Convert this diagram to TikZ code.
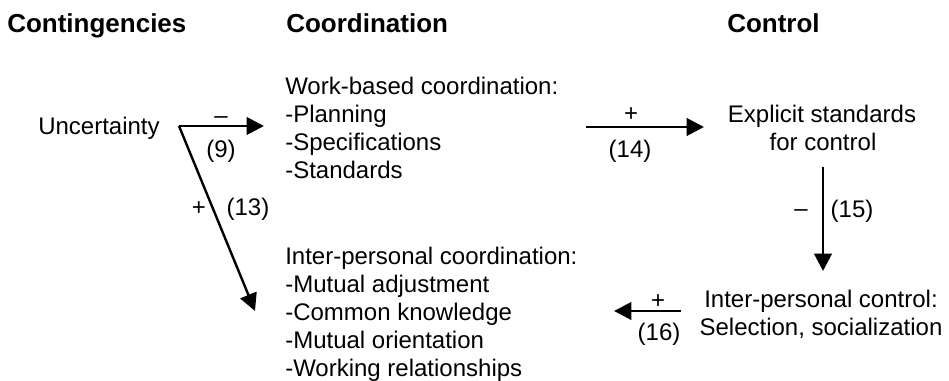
\documentclass[tikz,border=0pt]{standalone}
\usepackage{fontspec}
\setmainfont{Liberation Sans}
\usetikzlibrary{arrows.meta}

\tikzset{
  body/.style={font=\fontsize{18}{21}\selectfont, inner sep=0pt},
  line/.style={body, anchor=base west},
  cline/.style={body, anchor=base},
  head/.style={font=\fontsize{19.5}{23}\selectfont\bfseries, inner sep=0pt, anchor=base west},
  lab/.style={body, anchor=base},
  arr/.style={line width=2.2pt, -{Triangle[length=13pt,width=13pt]}},
  thinarr/.style={arr, line width=1.8pt},
}

\begin{document}
\begin{tikzpicture}[x=0.75pt, y=-0.75pt]
  % canvas
  \fill[white] (0,0) rectangle (949,381);

  % column headings
  \node[head] (hcont)  at (7,33)   {Contingencies};
  \node[head] (hcoord) at (286,33) {Coordination};
  \node[head] (hctrl)  at (727,33) {Control};

  % contingency
  \node[line] (unc) at (38,135) {Uncertainty};

  % work-based coordination
  \node[line] (wb1) at (285,95)  {Work-based coordination:};
  \node[line] (wb2) at (285,123) {-Planning};
  \node[line] (wb3) at (285,151) {-Specifications};
  \node[line] (wb4) at (285,179) {-Standards};

  % inter-personal coordination
  \node[line] (ip1) at (285,264) {Inter-personal coordination:};
  \node[line] (ip2) at (285,292) {-Mutual adjustment};
  \node[line] (ip3) at (285,320) {-Common knowledge};
  \node[line] (ip4) at (285,348) {-Mutual orientation};
  \node[line] (ip5) at (285,376) {-Working relationships};

  % control column
  \node[cline] (es1)  at (822,123) {Explicit standards};
  \node[cline] (es2)  at (823,151) {for control};
  \node[cline] (ipc1) at (821,307) {Inter-personal control:};
  \node[cline] (ipc2) at (821,335) {Selection, socialization};

  % connector end points
  \coordinate (fork) at (179,126);
  \coordinate (t9)   at (264,126);
  \coordinate (t13)  at (255,311);
  \coordinate (s14)  at (586,127);
  \coordinate (t14)  at (704,127);
  \coordinate (s15)  at (823,167);
  \coordinate (t15)  at (823,271);
  \coordinate (s16)  at (681,311);
  \coordinate (t16)  at (614,311);

  % connectors
  \draw[arr] (fork) -- (t9);
  \draw[thinarr] (fork) -- (t13);
  \draw[arr] (s14) -- (t14);
  \draw[arr] (s15) -- (t15);
  \draw[arr] (s16) -- (t16);

  % signs and hypothesis numbers
  \node[lab] (m9)  at (221,124) {–};
  \node[lab] (n9)  at (221,157) {(9)};
  \node[lab] (p13) at (199,215) {+};
  \node[lab] (n13) at (248,215) {(13)};
  \node[lab] (p14) at (631,122) {+};
  \node[lab] (n14) at (630,157) {(14)};
  \node[lab] (m15) at (801,216) {–};
  \node[lab] (n15) at (852,217) {(15)};
  \node[lab] (p16) at (658,308) {+};
  \node[lab] (n16) at (659,340) {(16)};
\end{tikzpicture}
\end{document}
